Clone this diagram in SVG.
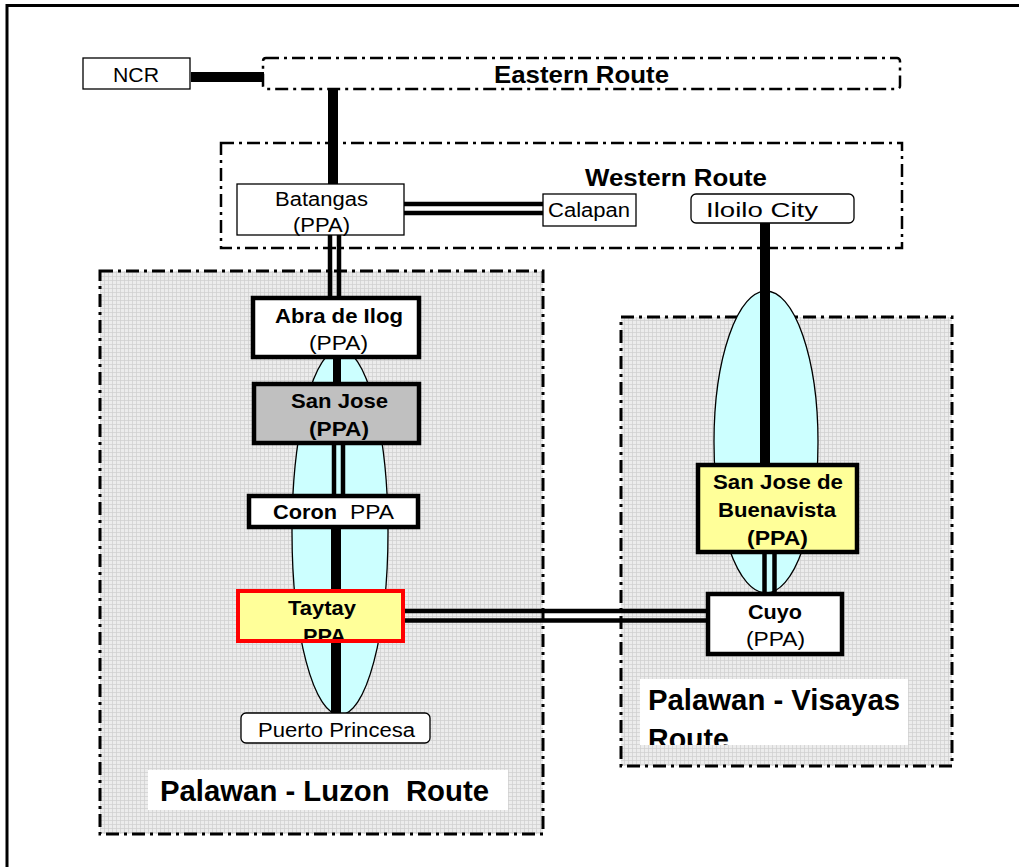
<svg xmlns="http://www.w3.org/2000/svg" width="1019" height="867" viewBox="0 0 1019 867">
<style>
text{font-family:"Liberation Sans",Arial,sans-serif;fill:#000;white-space:pre}
.n{font-size:20px}
.b{font-size:21px;font-weight:bold}
.t{font-size:24px;font-weight:bold}
.r{font-size:29px;font-weight:bold}
.route{fill:none;stroke:#000;stroke-width:2.5;stroke-dasharray:13 5 3 5}
.region{fill:url(#grid);stroke:#000;stroke-width:3;stroke-dasharray:13 5 3 5}
.box{fill:#fff;stroke:#000;stroke-width:1.3}
.bbox{fill:none;stroke:#000;stroke-width:4.5}
.thick{stroke:#000;stroke-width:10;fill:none}
.dbl{stroke:#000;stroke-width:4.5;fill:none}
.oval{fill:#CCFFFF;stroke:#000;stroke-width:1.3}
</style>
<defs>
<pattern id="grid" width="4" height="4" patternUnits="userSpaceOnUse">
<rect width="4" height="4" fill="#ececec"/>
<path d="M0 0.5H4M0.5 0V4" stroke="#cfcfcf" stroke-width="0.7"/>
</pattern>
<clipPath id="visClip"><rect x="640" y="679" width="268" height="66"/></clipPath>
</defs>
<rect width="1019" height="867" fill="#fff"/>
<g id="frame">
<path d="M7 867V5.5H1019" fill="none" stroke="#000" stroke-width="3"/>
</g>
<g id="eastern-route">
<rect class="route" x="263" y="58" width="637" height="31" rx="3"/>
<text class="t" x="494" y="83" textLength="175" lengthAdjust="spacingAndGlyphs">Eastern Route</text>
</g>
<g id="western-route">
<rect class="route" x="221" y="143" width="681" height="105"/>
<text class="t" x="585" y="186" textLength="182" lengthAdjust="spacingAndGlyphs">Western Route</text>
</g>
<g id="palawan-luzon-route">
<rect class="region" x="100" y="271" width="443" height="563"/>
<rect x="148" y="770" width="360" height="40" fill="#fff"/>
<text class="r" x="160" y="801" textLength="329" lengthAdjust="spacingAndGlyphs">Palawan - Luzon  Route</text>
</g>
<g id="palawan-visayas-route">
<rect class="region" x="621" y="317" width="331" height="449"/>
<rect x="640" y="679" width="268" height="66" fill="#fff"/>
<g clip-path="url(#visClip)">
<text class="r" x="648" y="710" textLength="252" lengthAdjust="spacingAndGlyphs">Palawan - Visayas</text>
<text class="r" x="648" y="749" textLength="81" lengthAdjust="spacingAndGlyphs">Route</text>
</g>
</g>
<g id="ovals">
<ellipse class="oval" cx="340" cy="532" rx="48" ry="183"/>
<ellipse class="oval" cx="766" cy="442" rx="52" ry="151"/>
</g>
<g id="connectors">
<line class="thick" x1="191" y1="77" x2="264" y2="77"/>
<line class="thick" x1="333" y1="89" x2="333" y2="185"/>
<line class="dbl" x1="404" y1="204" x2="544" y2="204"/>
<line class="dbl" x1="404" y1="213" x2="544" y2="213"/>
<line class="dbl" x1="330" y1="235" x2="330" y2="298"/>
<line class="dbl" x1="339" y1="235" x2="339" y2="298"/>
<line class="thick" x1="337" y1="357" x2="337" y2="384" style="stroke-width:8"/>
<line class="dbl" x1="334" y1="443" x2="334" y2="496"/>
<line class="dbl" x1="343" y1="443" x2="343" y2="496"/>
<line class="thick" x1="336" y1="527" x2="336" y2="714"/>
<line class="thick" x1="765" y1="223" x2="765" y2="465"/>
<line class="dbl" x1="764.5" y1="552" x2="764.5" y2="594"/>
<line class="dbl" x1="774.5" y1="552" x2="774.5" y2="594"/>
<line class="dbl" x1="403" y1="611" x2="707" y2="611"/>
<line class="dbl" x1="403" y1="620.5" x2="707" y2="620.5"/>
</g>
<g id="ncr">
<rect class="box" x="83" y="58" width="107" height="31"/>
<text class="n" x="113" y="82" textLength="46" lengthAdjust="spacingAndGlyphs">NCR</text>
</g>
<g id="batangas">
<rect x="237" y="184" width="167" height="51" fill="#fff"/>
<text class="n" x="275" y="206" textLength="93" lengthAdjust="spacingAndGlyphs">Batangas</text>
<text class="n" x="293" y="232" textLength="57" lengthAdjust="spacingAndGlyphs">(PPA)</text>
<rect x="237" y="184" width="167" height="51" fill="none" stroke="#000" stroke-width="1.3"/>
</g>
<g id="calapan">
<rect class="box" x="543" y="194" width="93" height="32"/>
<text class="n" x="548" y="217" textLength="82" lengthAdjust="spacingAndGlyphs">Calapan</text>
</g>
<g id="iloilo-city">
<rect class="box" x="691" y="194" width="163" height="29" rx="5"/>
<text class="n" x="706" y="217" textLength="112" lengthAdjust="spacingAndGlyphs">Iloilo City</text>
</g>
<g id="abra-de-ilog">
<rect x="253" y="298" width="166" height="59" fill="#fff"/>
<rect class="bbox" x="253" y="298" width="166" height="59"/>
<text class="b" x="275" y="323" textLength="128" lengthAdjust="spacingAndGlyphs">Abra de Ilog</text>
<text class="n" x="309" y="350" textLength="59" lengthAdjust="spacingAndGlyphs">(PPA)</text>
</g>
<g id="san-jose">
<rect x="254" y="384" width="165" height="59" fill="#C0C0C0"/>
<rect class="bbox" x="254" y="384" width="165" height="59"/>
<text class="b" x="291" y="408" textLength="97" lengthAdjust="spacingAndGlyphs">San Jose</text>
<text class="b" x="309" y="436" textLength="60" lengthAdjust="spacingAndGlyphs">(PPA)</text>
</g>
<g id="coron">
<rect x="249" y="496" width="169" height="31" fill="#fff"/>
<rect class="bbox" x="249" y="496" width="169" height="31"/>
<text class="b" x="273" y="519" textLength="64" lengthAdjust="spacingAndGlyphs">Coron</text>
<text class="n" x="350" y="519" textLength="44" lengthAdjust="spacingAndGlyphs">PPA</text>
</g>
<g id="taytay">
<rect x="238" y="591" width="165" height="50" fill="#FFFF99"/>
<text class="b" x="288" y="615" textLength="68" lengthAdjust="spacingAndGlyphs">Taytay</text>
<text class="b" x="303" y="643" textLength="43" lengthAdjust="spacingAndGlyphs">PPA</text>
<rect x="238" y="591" width="165" height="50" fill="none" stroke="#FF0000" stroke-width="4"/>
</g>
<g id="puerto-princesa">
<rect class="box" x="241" y="713" width="189" height="30" rx="5"/>
<text class="n" x="258" y="737" textLength="157" lengthAdjust="spacingAndGlyphs">Puerto Princesa</text>
</g>
<g id="san-jose-de-buenavista">
<rect x="698" y="465" width="159" height="87" fill="#FFFF99"/>
<rect class="bbox" x="698" y="465" width="159" height="87"/>
<text class="b" x="713" y="489" textLength="130" lengthAdjust="spacingAndGlyphs">San Jose de</text>
<text class="b" x="718" y="517" textLength="118" lengthAdjust="spacingAndGlyphs">Buenavista</text>
<text class="b" x="747" y="545" textLength="61" lengthAdjust="spacingAndGlyphs">(PPA)</text>
</g>
<g id="cuyo">
<rect x="708" y="594" width="134" height="60" fill="#fff"/>
<rect class="bbox" x="708" y="594" width="134" height="60"/>
<text class="b" x="748" y="619" textLength="54" lengthAdjust="spacingAndGlyphs">Cuyo</text>
<text class="n" x="746" y="646" textLength="59" lengthAdjust="spacingAndGlyphs">(PPA)</text>
</g>
</svg>
